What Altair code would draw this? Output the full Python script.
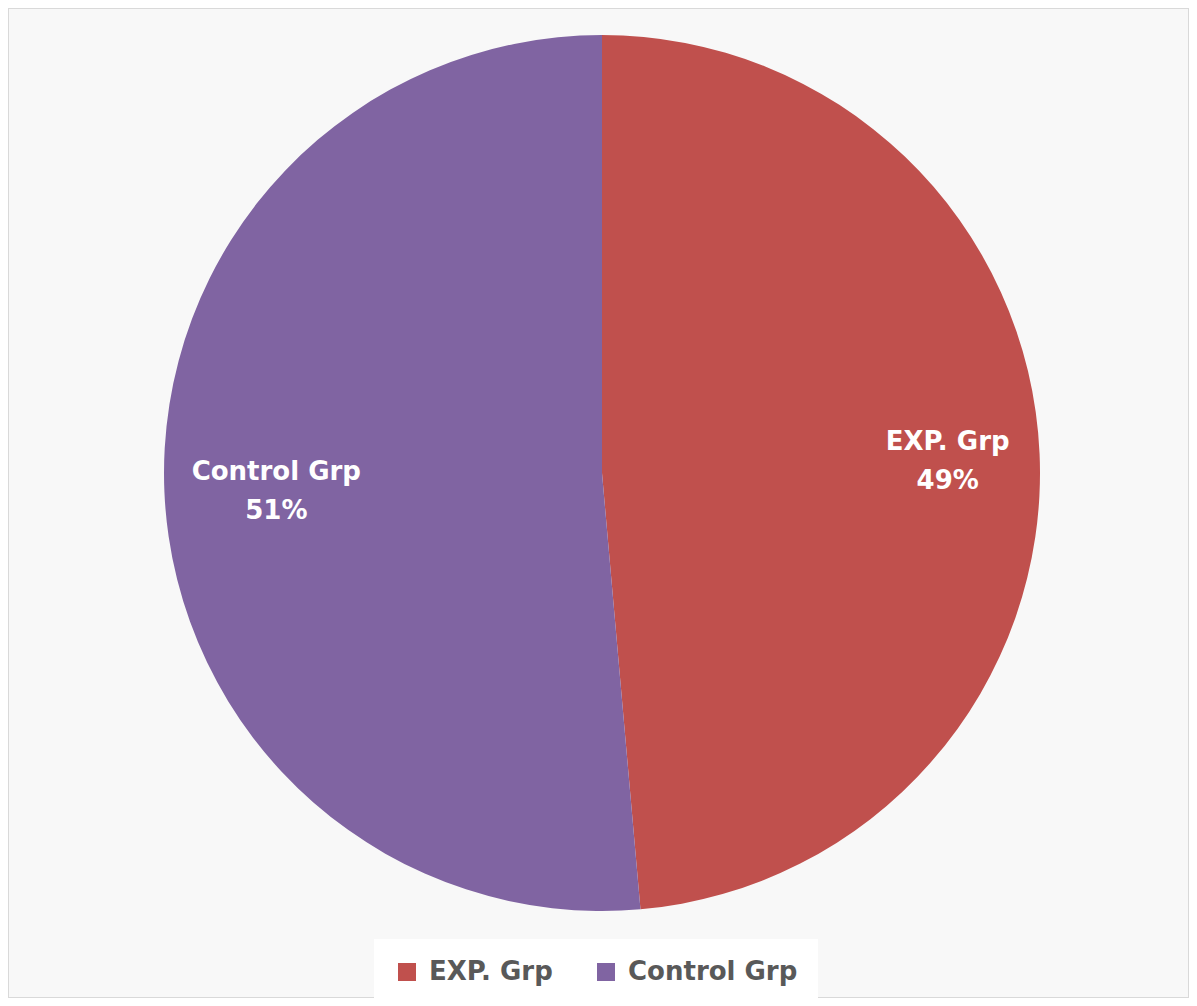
import altair as alt
import pandas as pd

groups = ["EXP. Grp", "Control Grp"]
shares = [48.6, 51.4]
labels = ["EXP. Grp\n49%", "Control Grp\n51%"]
order_idx = [0, 1]
colors = ["#C0504D", "#8064A2"]

df = pd.DataFrame({"group": groups, "share": shares, "label": labels, "idx": order_idx})

CX, CY, R = 594, 465, 438
FONT = "DejaVu Sans"

base = alt.Chart(df).encode(
    theta=alt.Theta("share:Q", stack=True),
    order=alt.Order("idx:Q"),
)

pie = base.mark_arc(radius=R).encode(
    x=alt.value(CX),
    y=alt.value(CY),
    color=alt.Color(
        "group:N",
        scale=alt.Scale(domain=groups, range=colors),
        legend=alt.Legend(
            title=None,
            orient="none",
            legendX=366,
            legendY=931,
            direction="horizontal",
            symbolType="square",
            symbolSize=324,
            symbolStrokeWidth=0,
            labelFont=FONT,
            labelFontSize=26,
            labelFontWeight="bold",
            labelColor="#595959",
            labelOffset=9,
            columnPadding=40,
            fillColor="white",
            padding=20,
            labelLimit=400,
        ),
    ),
)

text = base.mark_text(
    radius=336,
    dx=10,
    dy=-16,
    font=FONT,
    fontSize=26,
    fontWeight="bold",
    color="white",
    lineBreak="\n",
    lineHeight=39,
    align="center",
    baseline="middle",
).encode(
    x=alt.value(CX),
    y=alt.value(CY),
    text="label:N",
)

chart = (
    alt.layer(pie, text)
    .properties(
        width=1181,
        height=990,
        padding=0,
        autosize=alt.AutoSizeParams(type="fit", contains="padding"),
        background="white",
    )
    .configure_view(fill="#f8f8f8", stroke="#d9d9d9", strokeWidth=2)
)

chart.save("out.html", embed_options={"renderer": "svg", "actions": False})
